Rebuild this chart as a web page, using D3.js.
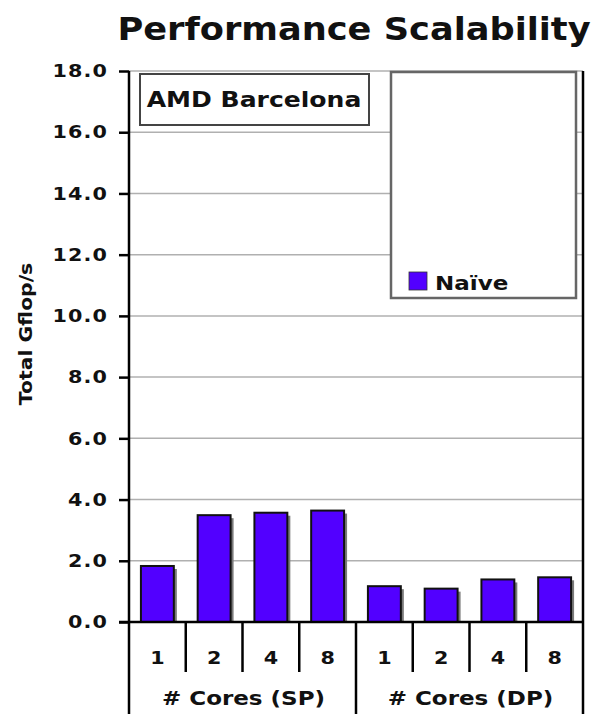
<!DOCTYPE html>
<html>
<head>
<meta charset="utf-8">
<script src="https://cdn.jsdelivr.net/npm/d3@7"></script>
<style>
  html, body { margin: 0; padding: 0; background: #fff; }
  svg { display: block; }
  text { font-family: "DejaVu Sans", Verdana, sans-serif; font-weight: bold; fill: #111; }
</style>
</head>
<body>
<svg id="chart" width="598" height="714"></svg>
<script>
// Core counts along the x axis, grouped by precision
const coreLabels = ["1", "2", "4", "8", "1", "2", "4", "8"];
const groupLabels = ["# Cores (SP)", "# Cores (DP)"];
// Naïve implementation throughput, Gflop/s
const naiveValues = [1.83, 3.49, 3.57, 3.64, 1.17, 1.09, 1.39, 1.46];
const yTicks = [0, 2, 4, 6, 8, 10, 12, 14, 16, 18];
const seriesName = "Naïve";

const W = 598, H = 714;
const plotLeft = 129, plotRight = 583, plotTop = 71, plotBottom = 622;

const svg = d3.select("#chart");

// wide bold lettering: text placed with a transform and stretched horizontally
function wideText(parent, x, y, str, size, k, anchor, rotate) {
  const rot = rotate ? ` rotate(${rotate})` : "";
  return parent.append("text")
    .attr("transform", `translate(${x},${y})${rot} scale(${k},1)`)
    .attr("text-anchor", anchor || "start")
    .style("font-size", size + "px")
    .text(str);
}

const x = d3.scaleBand()
  .domain(d3.range(coreLabels.length))
  .range([plotLeft, plotRight])
  .paddingInner(0.42)
  .paddingOuter(0.21);

const step = (plotRight - plotLeft) / coreLabels.length;

const y = d3.scaleLinear().domain([0, 18]).range([plotBottom, plotTop]);

// title
wideText(svg, 354, 40, "Performance Scalability", 32, 1.1, "middle");

// gridlines
svg.append("g")
  .selectAll("line")
  .data(yTicks.filter(d => d > 0))
  .join("line")
  .attr("x1", plotLeft).attr("x2", plotRight)
  .attr("y1", d => y(d)).attr("y2", d => y(d))
  .attr("stroke", "#b0b0b0")
  .attr("stroke-width", 1.5);

// y axis
const tickK = 1.15;
const yAxis = d3.axisLeft(y)
  .tickValues(yTicks)
  .tickFormat(d3.format(".1f"))
  .tickSize(10)
  .tickPadding(10);

const yg = svg.append("g")
  .attr("transform", `translate(${plotLeft},0)`)
  .call(yAxis);
yg.select(".domain").remove();
yg.selectAll(".tick line").attr("stroke", "#000").attr("stroke-width", 2.5);
yg.selectAll(".tick text")
  .attr("x", -21 / tickK)
  .attr("transform", `scale(${tickK},1)`)
  .style("font-size", "18px")
  .style("letter-spacing", "1px")
  .style("font-family", "\"DejaVu Sans\", Verdana, sans-serif")
  .style("font-weight", "bold")
  .attr("fill", "#111");

// y axis title
wideText(svg, 32, 334, "Total Gflop/s", 18, 1.13, "middle", -90);

// bar shadows
svg.append("g")
  .selectAll("rect")
  .data(naiveValues)
  .join("rect")
  .attr("x", (d, i) => x(i) + 3)
  .attr("y", d => y(d) + 3)
  .attr("width", x.bandwidth())
  .attr("height", d => plotBottom - y(d) - 3)
  .attr("fill", "#7a7a7a");

// bars
svg.append("g")
  .selectAll("rect")
  .data(naiveValues)
  .join("rect")
  .attr("x", (d, i) => x(i))
  .attr("y", d => y(d))
  .attr("width", x.bandwidth())
  .attr("height", d => plotBottom - y(d))
  .attr("fill", "#5200ff")
  .attr("stroke", "#111")
  .attr("stroke-width", 2);

// AMD Barcelona label box
svg.append("rect")
  .attr("x", 140).attr("y", 74)
  .attr("width", 229).attr("height", 51)
  .attr("fill", "#fff")
  .attr("stroke", "#444")
  .attr("stroke-width", 2);
wideText(svg, 254, 107, "AMD Barcelona", 22, 1.14, "middle");

// legend box
svg.append("rect")
  .attr("x", 391).attr("y", 72)
  .attr("width", 185).attr("height", 226)
  .attr("fill", "#fff")
  .attr("stroke", "#666")
  .attr("stroke-width", 2.5);
svg.append("rect")
  .attr("x", 409).attr("y", 272)
  .attr("width", 18).attr("height", 18)
  .attr("fill", "#5200ff")
  .attr("stroke", "#333")
  .attr("stroke-width", 0.8);
wideText(svg, 435, 290, seriesName, 20, 1.15, "start");

// plot frame: left axis line, right border, baseline
svg.append("line")
  .attr("x1", plotLeft).attr("x2", plotLeft)
  .attr("y1", plotTop).attr("y2", H)
  .attr("stroke", "#000").attr("stroke-width", 2.5);
svg.append("line")
  .attr("x1", plotRight).attr("x2", plotRight)
  .attr("y1", plotTop).attr("y2", H)
  .attr("stroke", "#000").attr("stroke-width", 2.5);
svg.append("line")
  .attr("x1", plotLeft - 10).attr("x2", plotRight)
  .attr("y1", plotBottom).attr("y2", plotBottom)
  .attr("stroke", "#000").attr("stroke-width", 2.5);

// category separators and labels
const sepY2 = 672;
svg.append("g")
  .selectAll("line")
  .data(d3.range(1, coreLabels.length))
  .join("line")
  .attr("x1", i => plotLeft + i * step).attr("x2", i => plotLeft + i * step)
  .attr("y1", plotBottom).attr("y2", i => (i % 4 === 0 ? H : sepY2))
  .attr("stroke", "#000").attr("stroke-width", 2.5);

const catG = svg.append("g");
coreLabels.forEach((d, i) => {
  wideText(catG, x(i) + x.bandwidth() / 2, 664, d, 18, 1.15, "middle");
});

const grpG = svg.append("g");
groupLabels.forEach((d, i) => {
  wideText(grpG, plotLeft + (i * 4 + 2) * step + 1, 705, d, 20, 1.15, "middle");
});
</script>
</body>
</html>
